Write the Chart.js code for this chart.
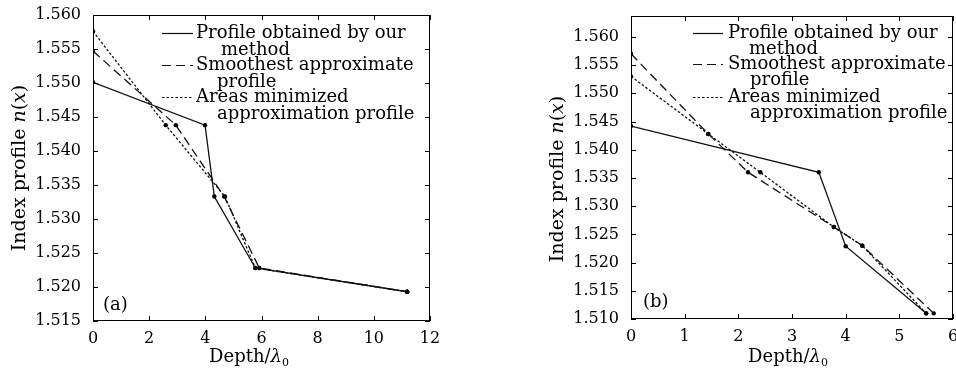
<!DOCTYPE html>
<html lang="en">
<head>
<meta charset="UTF-8">
<title>Index profile n(x) vs depth</title>
<script src="https://cdn.jsdelivr.net/npm/chart.js"></script>
<style>
  html, body { margin: 0; padding: 0; background: #fff; width: 956px; height: 372px; overflow: hidden; }
  .box { position: absolute; top: 0; height: 372px; }
  #boxA { left: 0; width: 478px; }
  #boxB { left: 478px; width: 490px; }
</style>
</head>
<body>
<div class="box" id="boxA"><canvas id="chartA"></canvas></div>
<div class="box" id="boxB"><canvas id="chartB"></canvas></div>

<script>
// ---- panel (a) ----
const xRangeA = [0, 12], xStepA = 2;
const yRangeA = [1.515, 1.560];
const oursXA = [0, 3.99, 4.32, 5.78, 11.19];
const oursYA = [1.5501, 1.5438, 1.5333, 1.5228, 1.5193];
const smoothXA = [0, 2.95, 4.67, 5.92, 11.19];
const smoothYA = [1.5547, 1.5438, 1.5333, 1.5228, 1.5193];
const areasXA = [0, 2.59, 4.70, 5.78, 11.19];
const areasYA = [1.5576, 1.5438, 1.5333, 1.5228, 1.5193];

// ---- panel (b) ----
const xRangeB = [0, 6], xStepB = 1;
const yRangeB = [1.510, 1.5637];
const oursXB = [0, 3.50, 4.00, 5.50];
const oursYB = [1.5442, 1.5360, 1.5229, 1.5110];
const smoothXB = [0, 1.44, 2.18, 3.78, 4.31, 5.64];
const smoothYB = [1.5570, 1.5428, 1.5360, 1.5263, 1.5230, 1.5110];
const areasXB = [0, 1.44, 2.41, 3.78, 4.31, 5.50];
const areasYB = [1.5530, 1.5428, 1.5360, 1.5263, 1.5230, 1.5110];

// legend labels (two lines each)
const legendLines = [
  ["Profile obtained by our", "method"],
  ["Smoothest approximate", "profile"],
  ["Areas minimized", "approximation profile"]
];

const FONT = "'DejaVu Serif', serif";
const INK = "#111";
const DASH_OURS = [], DASH_SMOOTH = [9, 5], DASH_AREAS = [2.5, 2];

const pts = (xs, ys) => xs.map((x, i) => ({ x, y: ys[i] }));

function series(data, dash) {
  return {
    data, showLine: true, borderDash: dash,
    borderColor: INK, borderWidth: 1.3,
    pointRadius: 2.2, pointBackgroundColor: "#000", pointBorderWidth: 0,
    tension: 0
  };
}

function drawRich(ctx, parts, cx, cy, rot) {
  ctx.save();
  ctx.translate(cx, cy);
  ctx.rotate(rot);
  ctx.textBaseline = "middle";
  ctx.textAlign = "left";
  let total = 0;
  parts.forEach(p => { ctx.font = p.font; total += ctx.measureText(p.t).width; });
  let x = -total / 2;
  parts.forEach(p => {
    ctx.font = p.font;
    ctx.fillText(p.t, x, p.dy || 0);
    x += ctx.measureText(p.t).width;
  });
  ctx.restore();
}

// frame, inward ticks, legend, panel tag and axis titles
const framePlugin = {
  id: "frame",
  afterDraw(chart, args, o) {
    const { ctx, chartArea: a, scales: { x, y } } = chart;
    ctx.save();
    ctx.strokeStyle = "#000";
    ctx.lineWidth = 1;
    ctx.setLineDash([]);
    ctx.strokeRect(a.left + 0.5, a.top + 0.5, a.right - a.left - 1, a.bottom - a.top - 1);
    ctx.beginPath();
    x.ticks.forEach(t => {
      const px = Math.round(x.getPixelForValue(t.value)) + 0.5;
      ctx.moveTo(px, a.bottom); ctx.lineTo(px, a.bottom - 5);
      ctx.moveTo(px, a.top); ctx.lineTo(px, a.top + 5);
    });
    y.ticks.forEach(t => {
      const py = Math.round(y.getPixelForValue(t.value)) + 0.5;
      ctx.moveTo(a.left, py); ctx.lineTo(a.left + 5, py);
      ctx.moveTo(a.right, py); ctx.lineTo(a.right - 5, py);
    });
    ctx.stroke();

    // legend
    const L = o.legend;
    const dashes = [DASH_OURS, DASH_SMOOTH, DASH_AREAS];
    ctx.fillStyle = "#000";
    ctx.textBaseline = "middle";
    ctx.textAlign = "left";
    ctx.font = "18px " + FONT;
    legendLines.forEach((lines, i) => {
      const ry = L.rows[i];
      ctx.strokeStyle = INK;
      ctx.lineWidth = 1.2;
      ctx.setLineDash(dashes[i]);
      ctx.beginPath();
      ctx.moveTo(L.x0, ry + 0.5); ctx.lineTo(L.x1, ry + 0.5);
      ctx.stroke();
      ctx.fillText(lines[0], L.tx, ry);
      ctx.fillText(lines[1], L.tx + L.indent[i], ry + L.gap);
    });
    ctx.setLineDash([]);

    // panel tag
    ctx.font = "18px " + FONT;
    ctx.fillText(o.tag.text, o.tag.x, o.tag.y);

    // axis titles
    const reg = "19px " + FONT, ita = "italic 19px " + FONT;
    drawRich(ctx, [
      { t: "Index profile ", font: reg }, { t: "n", font: ita },
      { t: "(", font: reg }, { t: "x", font: ita }, { t: ")", font: reg }
    ], o.yTitle.x, o.yTitle.y, -Math.PI / 2);
    drawRich(ctx, [
      { t: "Depth/", font: "18px " + FONT }, { t: "λ", font: "italic 18px " + FONT },
      { t: "0", font: "11px " + FONT, dy: 6 }
    ], o.xTitle.x, o.xTitle.y, 0);
    ctx.restore();
  }
};

function makeChart(id, sets, xr, xs, yr, dims, extra) {
  return new Chart(document.getElementById(id), {
    type: "scatter",
    data: { datasets: sets },
    plugins: [framePlugin],
    options: {
      responsive: true,
      maintainAspectRatio: false,
      animation: false,
      layout: { padding: dims.padding },
      plugins: {
        legend: { display: false },
        tooltip: { enabled: false },
        frame: extra
      },
      scales: {
        x: {
          type: "linear", min: xr[0], max: xr[1],
          grid: { display: false }, border: { display: false },
          ticks: { stepSize: xs, color: "#000", padding: 0, font: { family: FONT, size: 16 }, includeBounds: false },
          afterFit: s => { s.height = dims.xh; }
        },
        y: {
          type: "linear", min: yr[0], max: yr[1],
          grid: { display: false }, border: { display: false },
          ticks: {
            stepSize: 0.005, color: "#000", padding: 4, includeBounds: false,
            font: { family: FONT, size: 16 },
            callback: v => v.toFixed(3)
          },
          afterFit: s => { s.width = dims.yw; }
        }
      }
    }
  });
}

makeChart("chartA", [
  series(pts(oursXA, oursYA), DASH_OURS),
  series(pts(smoothXA, smoothYA), DASH_SMOOTH),
  series(pts(areasXA, areasYA), DASH_AREAS)
], xRangeA, xStepA, yRangeA,
{ padding: { left: 0, top: 15, right: 48, bottom: 0 }, yw: 93, xh: 51 },
{
  legend: { x0: 162, x1: 193, tx: 196, rows: [33, 65, 97], gap: 17, indent: [25, 21, 21] },
  tag: { text: "(a)", x: 103, y: 305 },
  yTitle: { x: 20, y: 168 },
  xTitle: { x: 249, y: 357 }
});

makeChart("chartB", [
  series(pts(oursXB, oursYB), DASH_OURS),
  series(pts(smoothXB, smoothYB), DASH_SMOOTH),
  series(pts(areasXB, areasYB), DASH_AREAS)
], xRangeB, xStepB, yRangeB,
{ padding: { left: 0, top: 16, right: 15, bottom: 0 }, yw: 153, xh: 53 },
{
  legend: { x0: 215, x1: 245, tx: 250, rows: [33, 64, 97], gap: 16, indent: [21, 22, 22] },
  tag: { text: "(b)", x: 165, y: 302 },
  yTitle: { x: 80, y: 179 },
  xTitle: { x: 310, y: 357 }
});
</script>
</body>
</html>
